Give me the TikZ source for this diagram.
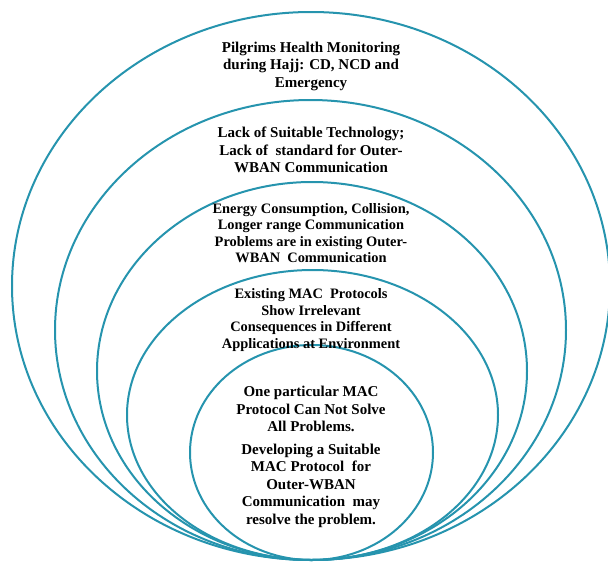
\documentclass[tikz,border=0pt]{standalone}
\usepackage{fontspec}
\setmainfont{Liberation Serif}
\definecolor{ringblue}{RGB}{38,148,174}
\tikzset{
  ring/.style={draw=ringblue, line width=2pt},
  ringtext/.style={align=center, inner sep=0pt, font=\bfseries\fontsize{15}{17.5}\selectfont},
  smalltext/.style={ringtext, font=\bfseries\fontsize{14.4}{16.4}\selectfont}
}
\begin{document}
\begin{tikzpicture}[x=1pt,y=-1pt]
\useasboundingbox (0,0) rectangle (608,562);
% rings, all touching at the bottom
\draw[ring] (311,286) ellipse [x radius=299pt, y radius=274pt];
\draw[ring] (310.5,330) ellipse [x radius=255.5pt, y radius=230pt];
\draw[ring] (312,371) ellipse [x radius=215pt, y radius=189pt];
\draw[ring] (312.5,415) ellipse [x radius=185.5pt, y radius=145pt];
\draw[ring] (311.5,452.5) ellipse [x radius=121.5pt, y radius=107.5pt];
% texts
\node[ringtext] (hajj) at (311,66) {Pilgrims Health Monitoring\\during Hajj: CD, NCD and\\Emergency};
\node[ringtext] (lack) at (311,150) {Lack of Suitable Technology;\\Lack of~ standard for Outer-\\WBAN Communication};
\node[smalltext] (energy) at (311,233) {Energy Consumption, Collision,\\Longer range Communication\\Problems are in existing Outer-\\WBAN~ Communication};
\node[smalltext] (existing) at (311,320) {Existing MAC~ Protocols\\Show Irrelevant\\Consequences in Different\\Applications at Environment};
\node[ringtext] (onemac) at (311,457) {One particular MAC\\Protocol Can Not Solve\\All Problems.\\[5pt]Developing a Suitable\\MAC Protocol~ for\\Outer-WBAN\\Communication~ may\\resolve the problem.};
\end{tikzpicture}
\end{document}
